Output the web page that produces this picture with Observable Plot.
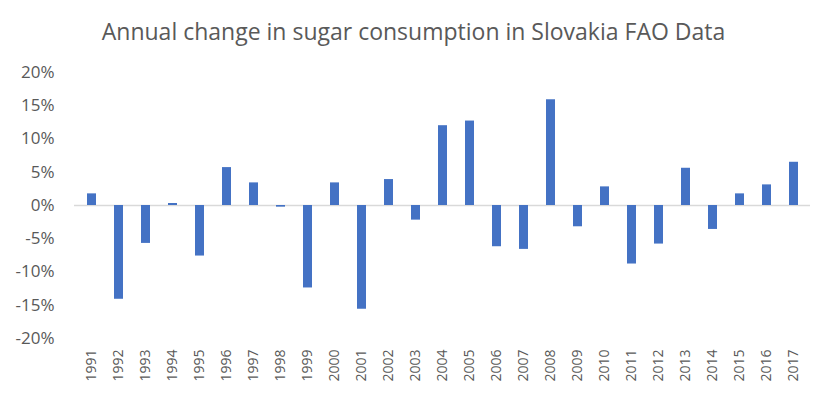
<!DOCTYPE html>
<html>
<head>
<meta charset="utf-8">
<script src="https://cdn.jsdelivr.net/npm/d3@7"></script>
<script src="https://cdn.jsdelivr.net/npm/@observablehq/plot@0.6"></script>
<style>
  html, body { margin: 0; padding: 0; background: #fff; }
  #wrap { width: 827px; height: 396px; overflow: hidden; }
  #title { height: 60px; box-sizing: border-box; padding-top: 3px; line-height: 56px; text-align: center;
           font-family: "Open Sans", sans-serif; font-size: 23px; color: #595959; white-space: nowrap; }
</style>
</head>
<body>
<div id="wrap">
  <div id="title">Annual change in sugar consumption in Slovakia FAO Data</div>
  <div id="chart"></div>
</div>
<script>
const years = [1991,1992,1993,1994,1995,1996,1997,1998,1999,2000,2001,2002,2003,2004,2005,2006,2007,2008,2009,2010,2011,2012,2013,2014,2015,2016,2017];
const changes = [1.75,-14.1,-5.7,0.3,-7.6,5.7,3.4,-0.25,-12.4,3.4,-15.6,3.9,-2.2,12.0,12.7,-6.2,-6.6,15.9,-3.2,2.8,-8.8,-5.8,5.6,-3.6,1.75,3.1,6.5];
const yTicks = [-20,-15,-10,-5,0,5,10,15,20];

const data = years.map((y, i) => ({year: String(y), value: changes[i]}));

const chart = Plot.plot({
  width: 827,
  height: 336,
  marginLeft: 74,
  marginRight: 17,
  marginTop: 12,
  marginBottom: 58,
  x: {domain: years.map(String), paddingInner: 0.67, paddingOuter: 0.335, label: null},
  y: {domain: [-20, 20], label: null},
  style: {fontFamily: "Open Sans, sans-serif", color: "#595959", background: "#fff"},
  marks: [
    Plot.axisY({ticks: yTicks, tickSize: 0, tickPadding: 20, tickFormat: d => `${d}%`, fontSize: 17, label: null}),
    Plot.axisX({tickSize: 0, tickRotate: -90, tickPadding: 11, fontSize: 14, label: null}),
    Plot.ruleY([0], {stroke: "#d9d9d9", strokeWidth: 1.5}),
    Plot.barY(data, {x: "year", y: "value", fill: "#4472c4"})
  ]
});
document.getElementById("chart").appendChild(chart);
</script>
</body>
</html>
